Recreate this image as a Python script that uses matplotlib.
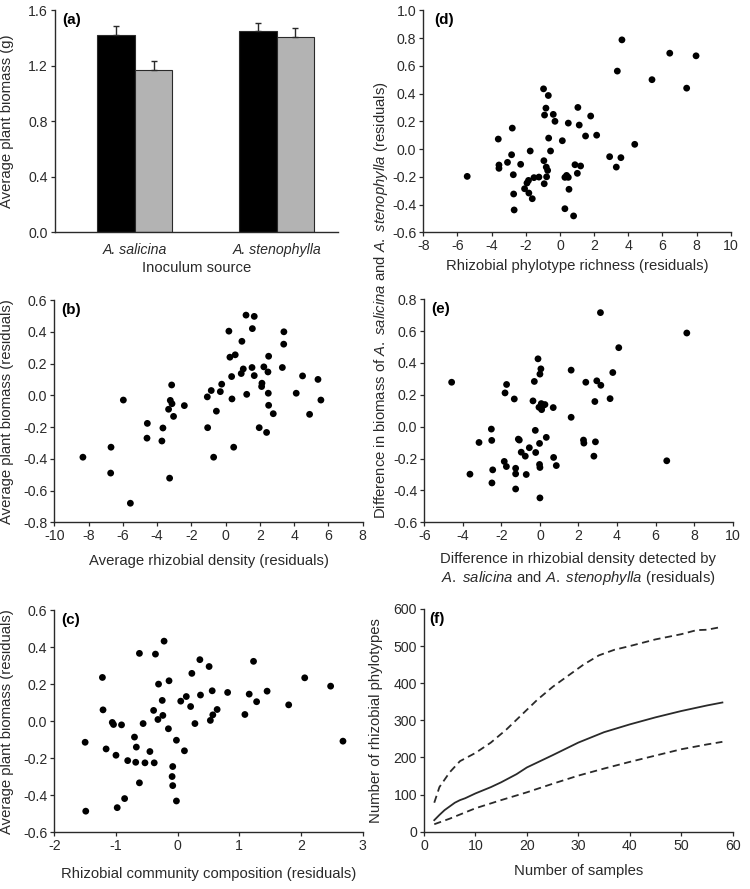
import numpy as np
import matplotlib
matplotlib.use('Agg')
import matplotlib.pyplot as plt
import matplotlib.transforms as mtransforms

plt.rcParams['font.family'] = ['Liberation Sans', 'DejaVu Sans']
plt.rcParams['mathtext.fontset'] = 'custom'
plt.rcParams['mathtext.rm'] = 'Liberation Sans'
plt.rcParams['mathtext.it'] = 'Liberation Sans:italic'
plt.rcParams['axes.unicode_minus'] = False
plt.rcParams['font.size'] = 10.7
plt.rcParams['xtick.labelsize'] = 10.2
plt.rcParams['ytick.labelsize'] = 10.2

# (a) bar data
sources = ['A. salicina', 'A. stenophylla']
black_vals = [1.42, 1.446]
black_err = [0.065, 0.062]
gray_vals = [1.165, 1.408]
gray_err = [0.065, 0.064]

# (b) rhizobial density vs biomass
b_x = [-8.33, -6.69, -6.71, -5.97, -5.56, -4.57, -4.59, -3.66, -3.72, -3.15, -3.23, -3.13,
       -3.33, -3.04, -3.27, -2.41, -1.07, -0.84, -1.05, -0.70, -0.54, -0.31, -0.23, 0.19,
       0.25, 0.56, 0.35, 0.37, 0.47, 0.95, 1.03, 0.91, 1.19, 1.23, 1.67, 1.56, 1.54, 1.67,
       1.96, 2.12, 2.10, 2.23, 2.39, 2.47, 2.51, 2.49, 2.51, 2.78, 3.31, 3.40, 3.39, 4.12,
       4.49, 4.90, 5.39, 5.56]
b_y = [-0.39, -0.327, -0.49, -0.03, -0.68, -0.177, -0.27, -0.206, -0.288, 0.065, -0.032, -0.053,
       -0.088, -0.133, -0.522, -0.065, -0.01, 0.03, -0.204, -0.39, -0.10, 0.023, 0.07, 0.404,
       0.24, 0.255, 0.118, -0.023, -0.327, 0.34, 0.166, 0.137, 0.505, 0.006, 0.497, 0.42, 0.175, 0.124,
       -0.204, 0.076, 0.055, 0.179, -0.234, 0.147, 0.246, 0.013, -0.063, -0.116, 0.175, 0.40, 0.322, 0.013,
       0.122, -0.12, 0.10, -0.03]

# (c) community composition vs biomass
c_x = [-1.50, -1.49, -1.22, -1.21, -1.16, -1.06, -1.04, -1.00, -0.98, -0.91, -0.86, -0.81,
       -0.70, -0.68, -0.67, -0.62, -0.62, -0.56, -0.53, -0.45, -0.39, -0.38, -0.36, -0.32,
       -0.31, -0.25, -0.24, -0.22, -0.14, -0.15, -0.08, -0.09, -0.08, -0.02, -0.02, 0.05,
       0.11, 0.14, 0.21, 0.23, 0.28, 0.36, 0.37, 0.51, 0.53, 0.56, 0.57, 0.64, 0.81, 1.09,
       1.16, 1.23, 1.28, 1.45, 1.80, 2.06, 2.48, 2.68]
c_y = [-0.114, -0.486, 0.236, 0.061, -0.15, -0.007, -0.018, -0.184, -0.467, -0.02, -0.418, -0.213,
       -0.086, -0.222, -0.14, 0.366, -0.333, -0.013, -0.225, -0.164, 0.058, -0.225, 0.362, 0.009,
       0.2, 0.112, 0.031, 0.432, 0.218, -0.041, -0.245, -0.299, -0.348, -0.103, -0.431, 0.108,
       -0.16, 0.133, 0.079, 0.258, -0.013, 0.332, 0.141, 0.295, 0.004, 0.164, 0.034, 0.063, 0.155, 0.036,
       0.146, 0.323, 0.105, 0.162, 0.088, 0.234, 0.189, -0.108]

# (d) phylotype richness vs biomass difference
d_x = [-5.43, -3.61, -3.57, -3.57, -3.07, -2.83, -2.79, -2.73, -2.71, -2.68, -2.30, -2.07,
       -1.93, -1.84, -1.82, -1.74, -1.62, -1.52, -1.23, -0.96, -0.90, -0.94, -0.92, -0.82,
       -0.80, -0.78, -0.72, -0.68, -0.66, -0.55, -0.39, -0.29, 0.14, 0.29, 0.29, 0.39,
       0.49, 0.49, 0.53, 0.80, 0.88, 1.02, 1.05, 1.13, 1.21, 1.50, 1.80, 2.15, 2.91, 3.30,
       3.36, 3.57, 3.63, 4.38, 5.39, 6.43, 7.42, 7.97]
d_y = [-0.197, 0.072, -0.115, -0.139, -0.096, -0.041, 0.151, -0.185, -0.324, -0.439, -0.11, -0.286,
       -0.245, -0.226, -0.317, -0.014, -0.358, -0.206, -0.202, 0.434, 0.245, -0.084, -0.25, 0.295,
       -0.13, -0.2, -0.154, 0.386, 0.079, -0.014, 0.25, 0.2, 0.06, -0.204, -0.43, -0.19,
       0.187, -0.204, -0.29, -0.482, -0.113, -0.175, 0.3, 0.173, -0.122, 0.094, 0.238, 0.1, -0.055, -0.13,
       0.562, -0.062, 0.787, 0.034, 0.5, 0.691, 0.439, 0.672]

# (e) density difference vs biomass difference
e_x = [-4.58, -3.63, -3.16, -2.52, -2.50, -2.45, -2.49, -1.81, -1.85, -1.74, -1.73, -1.33,
       -1.26, -1.26, -1.26, -1.12, -1.07, -0.97, -0.76, -0.71, -0.55, -0.36, -0.29, -0.24,
       -0.22, -0.10, -0.05, -0.02, -0.02, 0.0, 0.0, 0.0, 0.05, 0.07, 0.09, 0.16, 0.26,
       0.33, 0.69, 0.71, 0.85, 1.62, 1.62, 2.26, 2.28, 2.38, 2.80, 2.85, 2.88, 2.95, 3.14,
       3.16, 3.64, 3.78, 4.09, 6.58, 7.62]
e_y = [0.279, -0.298, -0.099, -0.015, -0.086, -0.271, -0.353, 0.212, -0.218, -0.25, 0.265, 0.174,
       -0.261, -0.296, -0.391, -0.078, -0.084, -0.16, -0.185, -0.3, -0.132, 0.162, 0.284, -0.023,
       -0.162, 0.426, 0.122, -0.105, -0.237, -0.256, -0.447, 0.33, 0.363, 0.145, 0.107, 0.132, 0.139,
       -0.067, 0.12, -0.193, -0.244, 0.355, 0.059, -0.084, -0.103, 0.279, -0.185, 0.158, -0.095, 0.288, 0.716,
       0.26, 0.176, 0.34, 0.496, -0.214, 0.588]

# (f) accumulation curve
f_x = [2, 3, 4, 5, 6, 7, 8, 10, 13, 15, 18, 20, 25, 30, 35, 40, 45, 50, 55, 58]
f_mean = [31, 45, 58, 68, 78, 85, 90, 103, 120, 133, 155, 173, 206, 240, 268, 289, 308, 325, 340, 348]
f_up_x = [2, 3, 4, 5, 7, 10, 13, 16, 19, 22, 25, 28, 31, 34, 37, 40, 45, 50, 53, 55, 58]
f_up = [78, 120, 140, 160, 190, 212, 240, 275, 315, 355, 390, 420, 450, 475, 490, 500, 518, 532, 543, 544, 552]
f_lo_x = [2, 5, 10, 15, 20, 25, 30, 35, 40, 45, 50, 55, 58]
f_lo = [20, 35, 63, 85, 106, 129, 151, 170, 188, 205, 222, 235, 242]

ink = '#2a2a2a'
fig = plt.figure(figsize=(7.5, 8.89), dpi=100)


def style(ax, label, dx=7):
    for s in ['top', 'right']:
        ax.spines[s].set_visible(False)
    for s in ['left', 'bottom']:
        ax.spines[s].set_color(ink)
        ax.spines[s].set_linewidth(1.0)
    ax.tick_params(direction='out', length=3, width=0.9, color=ink, labelcolor=ink, pad=2)
    off = mtransforms.offset_copy(ax.transAxes, fig=fig, x=dx, y=-3, units='dots')
    ax.text(0, 1, label, transform=off, fontsize=11, fontweight='bold',
            va='top', ha='left', color='black')


# (a)
ax = fig.add_axes([0.0733, 0.739, 0.377, 0.2497])
pos = np.arange(len(sources))
w = 0.264
ax.bar(pos - w / 2, black_vals, w, color='black', edgecolor=ink, linewidth=0.8)
ax.bar(pos + w / 2, gray_vals, w, color='#b3b3b3', edgecolor=ink, linewidth=0.8)
ax.errorbar(pos - w / 2, black_vals, yerr=[[0, 0], black_err], fmt='none', ecolor=ink,
            elinewidth=1.0, capsize=2, capthick=1.0)
ax.errorbar(pos + w / 2, gray_vals, yerr=[[0, 0], gray_err], fmt='none', ecolor=ink,
            elinewidth=1.0, capsize=2, capthick=1.0)
ax.set_xlim(-0.563, 1.43)
ax.set_ylim(0, 1.6)
ax.set_yticks([0, 0.4, 0.8, 1.2, 1.6])
ax.set_yticklabels(['0.0', '0.4', '0.8', '1.2', '1.6'])
ax.set_xticks(pos)
ax.set_xticklabels(sources, fontstyle='italic')
style(ax, '(a)')
ax.tick_params(axis='x', length=0, pad=8)
ax.set_ylabel('Average plant biomass (g)', color=ink)
ax.yaxis.set_label_coords(-0.145, 0.5)
ax.set_xlabel('Inoculum source', color=ink, labelpad=3)


def scatter_panel(rect, xs, ys, xlim, xticks, ylim, yticks, label, dx=7):
    ax = fig.add_axes(rect)
    ax.scatter(xs, ys, s=24, color='black', edgecolors='none', zorder=3)
    ax.set_xlim(*xlim)
    ax.set_ylim(*ylim)
    ax.set_xticks(xticks)
    ax.set_yticks(yticks)
    ax.set_yticklabels(['%.1f' % (round(t, 1) + 0.0) for t in yticks])
    style(ax, label, dx)
    return ax


ax = scatter_panel([0.0724, 0.4125, 0.4112, 0.250], b_x, b_y, (-10, 8), range(-10, 9, 2),
                   (-0.8, 0.6), np.arange(-0.8, 0.61, 0.2), '(b)')
ax.set_xlabel('Average rhizobial density (residuals)', color=ink, labelpad=8)
ax.set_ylabel('Average plant biomass (residuals)', color=ink)
ax.yaxis.set_label_coords(-0.131, 0.5)

ax = scatter_panel([0.0724, 0.0638, 0.4112, 0.250], c_x, c_y, (-2, 3), range(-2, 4),
                   (-0.6, 0.6), np.arange(-0.6, 0.61, 0.2), '(c)')
ax.set_xlabel('Rhizobial community composition (residuals)', color=ink, labelpad=10)
ax.set_ylabel('Average plant biomass (residuals)', color=ink)
ax.yaxis.set_label_coords(-0.131, 0.5)

ax = scatter_panel([0.5644, 0.7387, 0.4099, 0.2497], d_x, d_y, (-8, 10), range(-8, 11, 2),
                   (-0.6, 1.0), np.arange(-0.6, 1.01, 0.2), '(d)', dx=11)
ax.set_xlabel('Rhizobial phylotype richness (residuals)', color=ink, labelpad=4)

ax = scatter_panel([0.5657, 0.4125, 0.4112, 0.2509], e_x, e_y, (-6, 10), range(-6, 11, 2),
                   (-0.6, 0.8), np.arange(-0.6, 0.81, 0.2), '(e)')
ax.set_xlabel('Difference in rhizobial density detected by\n'
              r'$\mathit{A.\ salicina}$ and $\mathit{A.\ stenophylla}$ (residuals)',
              color=ink, labelpad=6, linespacing=1.25)

fig.text(0.508, 0.6625,
         r'Difference in biomass of $\mathit{A.\ salicina}$ and $\mathit{A.\ stenophylla}$ (residuals)',
         rotation=90, ha='center', va='center', color=ink, fontsize=10.7)

# (f)
ax = fig.add_axes([0.5653, 0.0645, 0.4116, 0.2505])
ax.plot(f_x, f_mean, color=ink, lw=1.3)
ax.plot(f_up_x, f_up, color=ink, lw=1.3, ls=(0, (4, 2.5)))
ax.plot(f_lo_x, f_lo, color=ink, lw=1.3, ls=(0, (4, 2.5)))
ax.set_xlim(0, 60)
ax.set_ylim(0, 600)
ax.set_xticks(range(0, 61, 10))
ax.set_yticks(range(0, 601, 100))
style(ax, '(f)', dx=5)
ax.set_xlabel('Number of samples', color=ink, labelpad=8)
ax.set_ylabel('Number of rhizobial phylotypes', color=ink)
ax.yaxis.set_label_coords(-0.133, 0.5)

fig.savefig('out.png', dpi=100)
